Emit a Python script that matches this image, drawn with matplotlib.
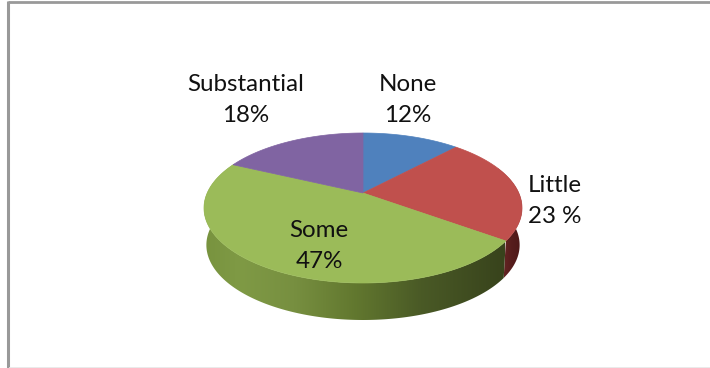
from matplotlib import pyplot as plt
from matplotlib.colors import LinearSegmentedColormap
from matplotlib.patches import Polygon
import numpy as np

plt.rcParams['font.family'] = ['Lato', 'DejaVu Sans']

categories = ['None', 'Little', 'Some', 'Substantial']
values = [12, 23, 47, 18]
value_labels = ['12%', '23 %', '47%', '18%']
top_colors = ['#4f81bd', '#c0504d', '#9bbb59', '#8064a2']
label_x = [408, 555, 319, 246]
label_y = [100, 201, 246, 100]

# pie geometry in image pixels
cx, cy = 363, 193
A, B, k = 155.8, 72, 0.2
depth = 37
shrink = 0.985


def project(angle, scale=1.0, drop=0.0):
    # angle is clockwise from 12 o'clock, perspective view of a unit circle
    x = np.sin(angle)
    y = np.cos(angle)
    d = 1 + k * y
    return cx + scale * A * x / d, cy + drop - B * y / d


def arc(a0, a1):
    return np.linspace(a0, a1, 200)


def side_gradient(ax, a0, a1, x0, x1, stops):
    t = arc(a0, a1)
    xt, yt = project(t)
    xb, yb = project(t, shrink, depth)
    pts = np.column_stack([np.r_[xt, xb[::-1]], np.r_[yt, yb[::-1]]])
    poly = Polygon(pts, transform=ax.transData, fc='none', ec='none')
    ax.add_patch(poly)
    cmap = LinearSegmentedColormap.from_list('side', stops)
    grad = np.linspace(0, 1, 256).reshape(1, -1)
    im = ax.imshow(grad, cmap=cmap, extent=[x0, x1, 330, 130], aspect='auto',
                   zorder=1, interpolation='bilinear')
    im.set_clip_path(poly)


fig = plt.figure(figsize=(7.1, 3.68), dpi=100)
ax = fig.add_axes([0, 0, 1, 1])

edges = np.radians(np.cumsum([0] + values) * 3.6)

# only the red and green sides can be seen
side_gradient(ax, edges[1], edges[2], 498, 523, ['#6e2927', '#581e1d', '#4a1717'])
side_gradient(ax, edges[2], edges[3], 204, 505,
              [(0, '#78933f'), (0.12, '#7f9a45'), (0.3, '#778f40'),
               (0.5, '#62782f'), (0.72, '#4a5a26'), (1, '#38431c')])

for i in range(len(values)):
    t = arc(edges[i], edges[i + 1])
    x, y = project(t)
    ax.fill(np.r_[cx, x], np.r_[cy, y], color=top_colors[i], lw=0.5, zorder=2)

for i in range(len(categories)):
    ax.text(label_x[i], label_y[i], categories[i] + '\n' + value_labels[i],
            ha='center', va='center', fontsize=17.4, color='#111111',
            linespacing=1.62, zorder=3)

# picture frame
ax.plot([7.5, 710], [2, 2], color='#999999', lw=2, zorder=4, solid_capstyle='butt')
ax.plot([8, 8], [1, 368], color='#999999', lw=2.2, zorder=4, solid_capstyle='butt')
ax.plot([9, 710], [367.5, 367.5], color='#e6e6e6', lw=1.2, zorder=4, solid_capstyle='butt')

ax.set_xlim(0, 710)
ax.set_ylim(368, 0)
ax.axis('off')
fig.savefig('out.png', dpi=100)
